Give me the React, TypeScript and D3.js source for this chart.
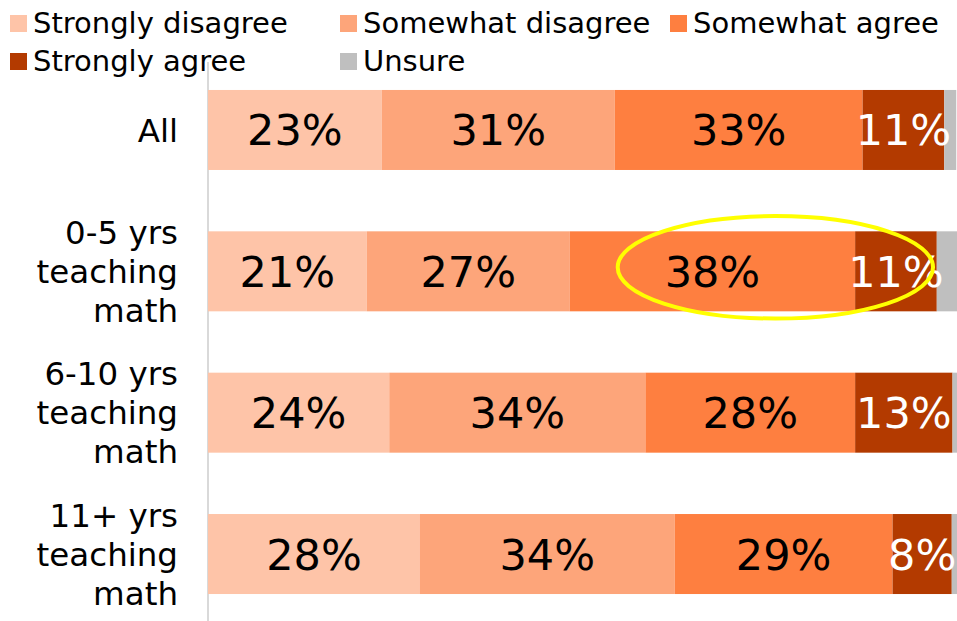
import React from "react";
import * as d3 from "d3";

const categories = ["All", "0-5 yrs teaching math", "6-10 yrs teaching math", "11+ yrs teaching math"];
const categoryLines = [["All"], ["0-5 yrs", "teaching", "math"], ["6-10 yrs", "teaching", "math"], ["11+ yrs", "teaching", "math"]];
const seriesNames = ["Strongly disagree", "Somewhat disagree", "Somewhat agree", "Strongly agree", "Unsure"];
const colors = ["#FEC4A8", "#FDA57A", "#FE7F40", "#B33A00", "#BFBFBF"];
const labelColors = ["#000", "#000", "#000", "#fff", "none"];
const stronglyDisagree = [23.2, 21.2, 24.2, 28.3];
const somewhatDisagree = [31.1, 27.1, 34.2, 34.0];
const somewhatAgree = [33.1, 38.1, 28.0, 29.1];
const stronglyAgree = [10.9, 10.9, 13.0, 7.9];
const unsure = [1.6, 2.7, 0.7, 0.7];
const xDomain = [0, 100];
// annotation: ellipse around agree segments of "0-5 yrs" row (in data units)
const highlightCategory = "0-5 yrs teaching math";
const highlightRange = [54.7, 96.8];

const W = 957;
const H = 621;
const FONT = "'DejaVu Sans', sans-serif";

export default function App() {
  const series = [stronglyDisagree, somewhatDisagree, somewhatAgree, stronglyAgree, unsure];
  const x = d3.scaleLinear().domain(xDomain).range([208, 957]);
  const y = d3
    .scaleBand<string>()
    .domain(categories)
    .range([59.3, 624.7])
    .paddingInner(0.434)
    .paddingOuter(0.217);

  const rows = categories.map((c, i) => {
    let cum = 0;
    return series.map((s, k) => {
      const v = s[i];
      const seg = { k, x0: cum, x1: cum + v, v };
      cum += v;
      return seg;
    });
  });

  const legendCols = [10, 340, 670];
  const legendRows = [15, 53];

  const hy = (y(highlightCategory) as number) + y.bandwidth() / 2 - 4;
  const hx0 = x(highlightRange[0]);
  const hx1 = x(highlightRange[1]);

  return (
    <svg
      width={W}
      height={H}
      style={{ position: "absolute", left: 0, top: 0, background: "#fff" }}
      fontFamily={FONT}
    >
      {/* axis line */}
      <line x1={208} x2={208} y1={62} y2={H} stroke="#D9D9D9" strokeWidth={2} />
      {/* legend */}
      {seriesNames.map((n, k) => {
        const lx = legendCols[k % 3];
        const ly = legendRows[Math.floor(k / 3)];
        return (
          <g key={n}>
            <rect x={lx} y={ly} width={17} height={17} fill={colors[k]} />
            <text x={lx + 23} y={ly + 18} fontSize={29} fill="#000">
              {n}
            </text>
          </g>
        );
      })}
      {/* bars */}
      {categories.map((c, i) => {
        const by = y(c) as number;
        const bh = y.bandwidth();
        return (
          <g key={c}>
            {rows[i].map((s) => (
              <rect
                key={s.k}
                x={x(s.x0)}
                y={by}
                width={x(s.x1) - x(s.x0)}
                height={bh}
                fill={colors[s.k]}
              />
            ))}
            {rows[i].map((s) =>
              s.k < 4 ? (
                <text
                  key={"t" + s.k}
                  x={(x(s.x0) + x(s.x1)) / 2}
                  y={by + bh / 2}
                  dy="0.36em"
                  textAnchor="middle"
                  fontSize={43}
                  fill={labelColors[s.k]}
                >
                  {Math.round(s.v) + "%"}
                </text>
              ) : null
            )}
            {categoryLines[i].map((ln, j) => (
              <text
                key={ln}
                x={178}
                y={by + bh / 2 + (j - (categoryLines[i].length - 1) / 2) * 39}
                dy="0.36em"
                textAnchor="end"
                fontSize={32.5}
                fill="#000"
              >
                {ln}
              </text>
            ))}
          </g>
        );
      })}
      {/* highlight annotation */}
      <ellipse
        cx={(hx0 + hx1) / 2}
        cy={hy}
        rx={(hx1 - hx0) / 2}
        ry={y.bandwidth() * 0.64}
        fill="none"
        stroke="#FFFF00"
        strokeWidth={4}
      />
    </svg>
  );
}
